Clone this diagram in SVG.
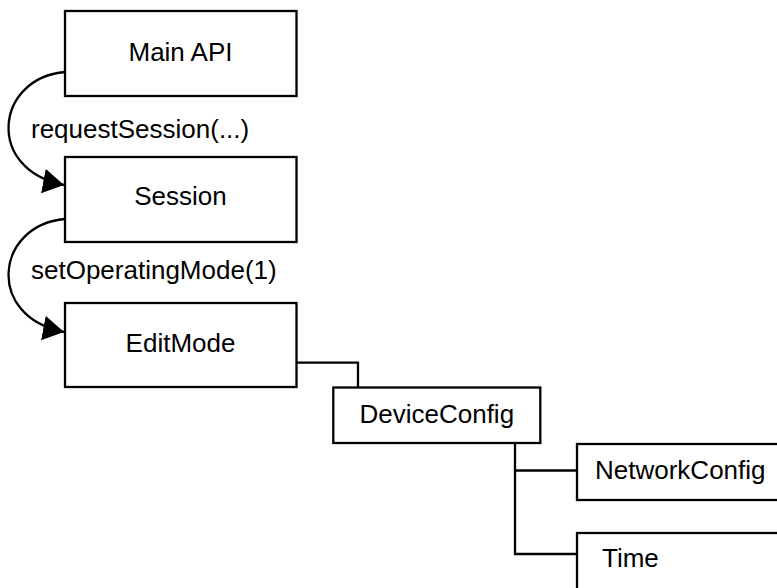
<svg xmlns="http://www.w3.org/2000/svg" width="777" height="588" viewBox="0 0 777 588">
  <style>
    .box { fill: #ffffff; stroke: #000000; stroke-width: 2.3; }
    .lbl { font-family: "Liberation Sans", Arial, sans-serif; font-size: 26px; fill: #000000; }
    .mid { text-anchor: middle; }
    .edge { fill: none; stroke: #000000; stroke-width: 2.3; }
  </style>
  <defs>
    <marker id="arrow" markerUnits="userSpaceOnUse" markerWidth="26" markerHeight="26" refX="21" refY="12.5" orient="auto">
      <path d="M0,0 L21,12.5 L0,25 Z" fill="#000000"/>
    </marker>
  </defs>
  <rect width="777" height="588" fill="#ffffff"/>

  <g id="connectors">
    <!-- call arcs -->
    <path class="edge" d="M65,72 C-5,78 -15,170 64,185" marker-end="url(#arrow)"/>
    <path class="edge" d="M65,219 C-5,225 -15,317 64,332" marker-end="url(#arrow)"/>
    <!-- tree links -->
    <path class="edge" d="M296.5,362.7 H358 V387.5"/>
    <path class="edge" d="M515,443 V554 H577"/>
    <path class="edge" d="M515,470.5 H577"/>
  </g>

  <g id="main-api">
    <rect class="box" x="65" y="11" width="231.5" height="85"/>
    <text class="lbl mid" x="180.5" y="61">Main API</text>
  </g>
  <g id="session">
    <rect class="box" x="65" y="157" width="231.5" height="85"/>
    <text class="lbl mid" x="180.5" y="205">Session</text>
  </g>
  <g id="edit-mode">
    <rect class="box" x="65" y="303" width="231.5" height="84"/>
    <text class="lbl mid" x="180.5" y="352">EditMode</text>
  </g>
  <g id="device-config">
    <rect class="box" x="333.3" y="387.5" width="207" height="55.5"/>
    <text class="lbl mid" x="436.8" y="423">DeviceConfig</text>
  </g>
  <g id="network-config">
    <rect class="box" x="577" y="444" width="207" height="56"/>
    <text class="lbl" x="595" y="479">NetworkConfig</text>
  </g>
  <g id="time">
    <rect class="box" x="577" y="533" width="207" height="60"/>
    <text class="lbl" x="602" y="567">Time</text>
  </g>

  <text class="lbl" x="31" y="138">requestSession(...)</text>
  <text class="lbl" x="31" y="279">setOperatingMode(1)</text>
</svg>
